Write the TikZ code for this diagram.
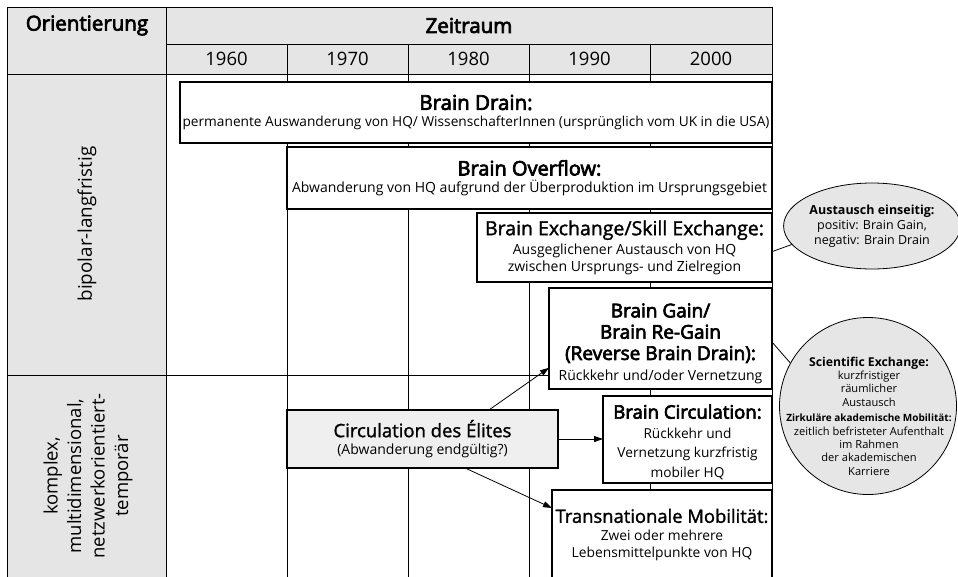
\documentclass[tikz,border=0pt]{standalone}
\usepackage{fontspec}
\setmainfont{Open Sans}
\newfontfamily\semiopen{Open Sans}[FakeBold=3.5]
\newfontfamily\medopen{Open Sans}[FakeBold=1.5]
\usetikzlibrary{arrows.meta,shapes.geometric,calc}
\definecolor{hdrgray}{HTML}{E5E5E5}
\definecolor{elitegray}{HTML}{EFEFEF}
\definecolor{ovalgray}{HTML}{E6E6E6}
\newcommand{\sbt}[2]{{\fontsize{#1}{21}\semiopen #2}}
\newcommand{\mdt}[2]{{\fontsize{#1}{21}\medopen #2}}
\begin{document}
\begin{tikzpicture}[x=1pt,y=-1pt,
  cell/.style={draw=black, line width=0.8pt, fill=hdrgray, inner sep=0pt, anchor=north west, outer sep=0pt},
  gridline/.style={draw=black, line width=0.8pt},
  box/.style={draw=black, line width=1.1pt, fill=white, align=center, inner sep=0pt, anchor=north west, outer sep=0pt},
  boxtext/.style={align=center, inner sep=0pt},
  conn/.style={draw=black, line width=0.8pt},
  arr/.style={draw=black, line width=0.8pt, -{Triangle[length=9pt,width=6pt]}},
  oval/.style={draw=black, line width=0.8pt, fill=ovalgray, inner sep=0pt},
  hdrtext/.style={font=\fontsize{20.5}{21}\semiopen, inner sep=0pt},
  yeartext/.style={font=\fontsize{18.5}{21}\selectfont, inner sep=0pt},
  ]
\path[use as bounding box] (0,0) rectangle (958,576);
\clip (0,0) rectangle (958,576);
\fill[white] (0,0) rectangle (958,576);

% header and left column cells
\node[cell, minimum width=159pt, minimum height=67pt] (orient) at (7,7) {};
\node[cell, minimum width=606pt, minimum height=37pt] (zeit) at (166,7) {};
\node[cell, minimum width=121pt, minimum height=30pt] (y60) at (166,44) {};
\node[cell, minimum width=121pt, minimum height=30pt] (y70) at (287,44) {};
\node[cell, minimum width=121pt, minimum height=30pt] (y80) at (408,44) {};
\node[cell, minimum width=121pt, minimum height=30pt] (y90) at (529,44) {};
\node[cell, minimum width=122pt, minimum height=30pt] (y00) at (650,44) {};
\node[cell, minimum width=159pt, minimum height=301pt] (bip) at (7,74) {};
\node[cell, minimum width=159pt, minimum height=215pt] (kom) at (7,375) {};

\node[hdrtext] (orienttxt) at (87,25.5) {Orientierung};
\node[hdrtext] (zeittxt) at (zeit.center) {Zeitraum};
\node[yeartext] (t60) at (y60.center) {1960};
\node[yeartext] (t70) at (y70.center) {1970};
\node[yeartext] (t80) at (y80.center) {1980};
\node[yeartext] (t90) at (y90.center) {1990};
\node[yeartext] (t00) at (y00.center) {2000};
\node[rotate=90, font=\fontsize{18.8}{21}\selectfont, inner sep=0pt] (biptxt) at (87,224) {bipolar-langfristig};
\node[rotate=90, align=center, font=\fontsize{18.5}{23.5}\selectfont, inner sep=0pt] (komtxt) at (88,476) {komplex,\\multidimensional,\\netzwerkorientiert-\\temporär};

% grid lines
\foreach \n in {y60,y70,y80,y90,y00} \draw[gridline] (\n.south west) -- ++(0,530);
\draw[gridline] (y00.south east) -- ++(0,530);
\draw[gridline] (kom.north east) -- (kom.north east -| y00.east);

% boxes
\node[box, minimum width=592pt, minimum height=61pt, font=\fontsize{13.7}{17}\selectfont] (drain) at (180,82)
  {\sbt{20.5}{Brain Drain:}\\permanente Auswanderung von HQ/ WissenschafterInnen (ursprünglich vom UK in die USA)};
\node[box, minimum width=485pt, minimum height=62pt, font=\fontsize{14}{17}\selectfont] (overflow) at (287,147)
  {\sbt{20}{Brain Overflow:}\\Abwanderung von HQ aufgrund der Überproduktion im Ursprungsgebiet};
\node[box, minimum width=295pt, minimum height=69pt, font=\fontsize{14}{17}\selectfont] (exchange) at (477,213)
  {\mdt{19.5}{Brain Exchange/Skill Exchange:}\\[2pt]Ausgeglichener Austausch von HQ\\zwischen Ursprungs- und Zielregion};
\node[box, minimum width=223pt, minimum height=101pt] (gain) at (549,288) {};
\node[boxtext, font=\fontsize{14}{21.3}\selectfont] (gaintxt) at ($(gain.center)+(0,5)$)
  {\sbt{19}{Brain Gain/}\\\sbt{19}{Brain Re-Gain}\\\sbt{19}{(Reverse Brain Drain):}\\[-1pt]Rückkehr und/oder Vernetzung};
\node[box, minimum width=169pt, minimum height=87pt] (circ) at (603,396) {};
\node[boxtext, font=\fontsize{13.7}{19.5}\selectfont] (circtxt) at ($(circ.center)+(0,2.5)$)
  {\sbt{18.6}{Brain Circulation:}\\Rückkehr und\\Vernetzung kurzfristig\\mobiler HQ};
\node[box, minimum width=220pt, minimum height=90pt, font=\fontsize{13.8}{17.5}\selectfont] (trans) at (552,490)
  {\mdt{18.4}{Transnationale Mobilität:}\\Zwei oder mehrere\\Lebensmittelpunkte von HQ};
\node[box, fill=elitegray, minimum width=271pt, minimum height=58pt, font=\fontsize{14}{17.5}\selectfont] (elites) at (287,410)
  {\mdt{18.5}{Circulation des Élites}\\(Abwanderung endgültig?)};

% arrows
\draw[arr] ($(elites.north west)!0.745!(elites.north east)$) -- ($(gain.north west)!0.79!(gain.south west)$);
\draw[arr] (elites.east) -- (elites.east -| circ.west);
\draw[arr] ($(elites.south west)!0.657!(elites.south east)$) -- ($(trans.north west)+(0,18)$);

% ovals
\node[oval, ellipse, minimum width=166pt, minimum height=86pt, align=center, font=\fontsize{12.5}{15}\selectfont] (e1) at (872,226)
  {{\bfseries Austausch einseitig:}\\positiv: Brain Gain,\\negativ: Brain Drain};
\node[oval, circle, minimum size=177pt] (c2) at (868,406) {};
\node[align=center, inner sep=0pt, font=\fontsize{11.1}{13.4}\selectfont] (c2txt) at (869,416)
  {{\fontsize{12.2}{13.4}\bfseries Scientific Exchange:}\\kurzfristiger\\räumlicher\\Austausch\\[2pt]{\fontsize{10}{13}\selectfont\bfseries Zirkuläre akademische Mobilität:}\\zeitlich befristeter Aufenthalt\\im Rahmen\\der akademischen\\Karriere};

\draw[conn] ($(exchange.north east)!0.56!(exchange.south east)$) -- (e1.193);
\draw[conn] ($(gain.north east)!0.535!(gain.south east)$) -- (c2.151);
\end{tikzpicture}
\end{document}
